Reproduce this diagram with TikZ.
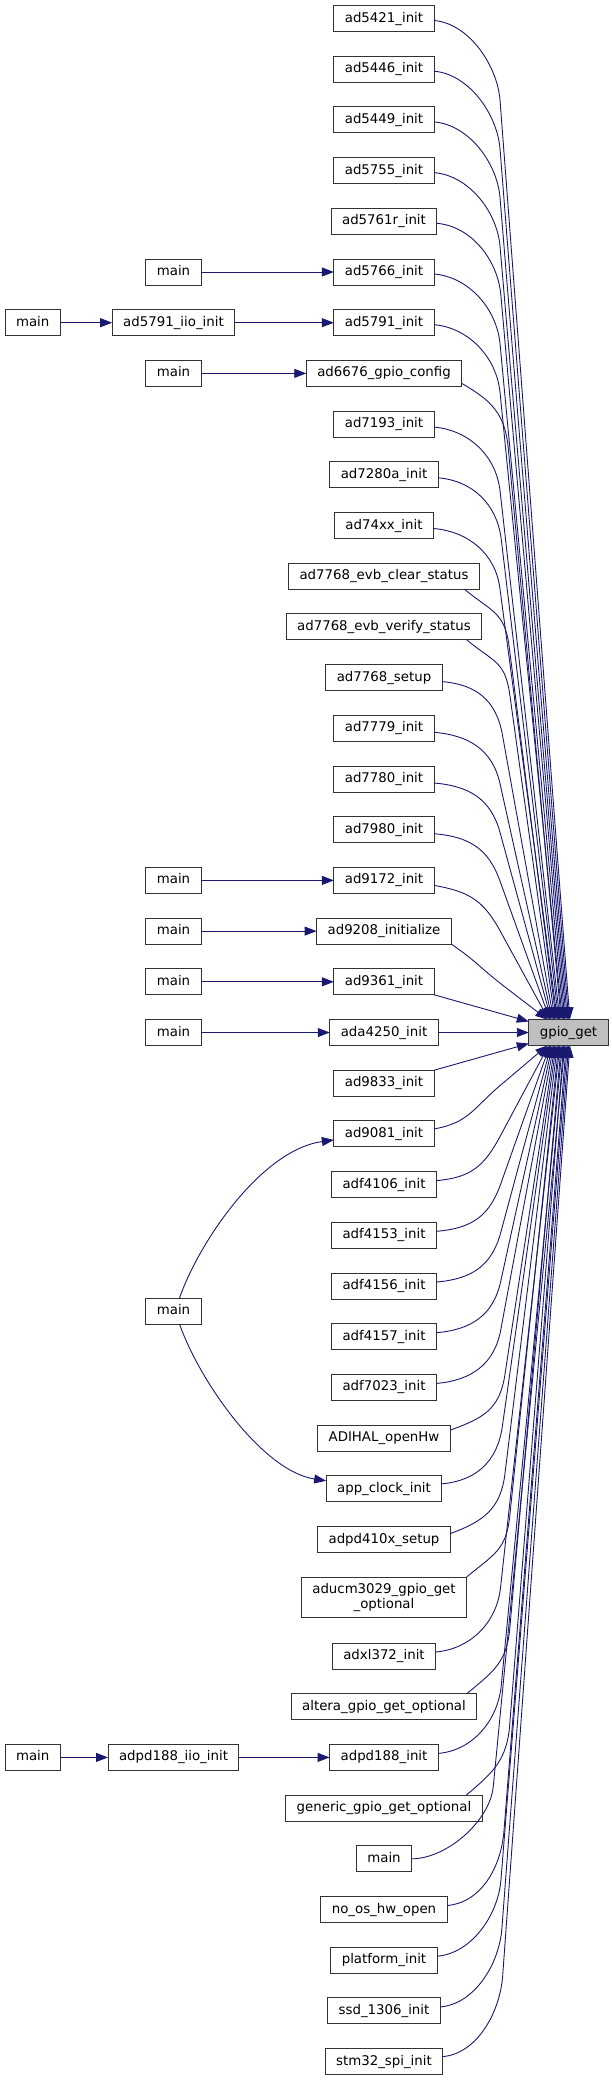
\documentclass[tikz,border=0pt]{standalone}
\usepackage{fontspec}
\setmainfont{DejaVu Sans}
\usetikzlibrary{arrows.meta,positioning,calc}
\definecolor{edgeblue}{RGB}{25,25,112}
\definecolor{boxgray}{RGB}{191,191,191}

\begin{document}
\begin{tikzpicture}[x=1pt, y=1pt,
    box/.style={rectangle, draw=black!80, line width=1pt, fill=white, minimum height=26pt, inner xsep=11pt, inner ysep=2pt, outer sep=0pt, font=\fontsize{13.33}{15}\selectfont},
    fn/.style={box, text height=10pt, text depth=3pt},
    call/.style={-{Triangle[length=12pt, width=9pt]}, draw=edgeblue, line width=0.9pt},
    fanup/.style={to path={let \p1=(\tikztostart), \p2=(\tikztotarget), \p3=({0.3*\x1+369.8pt},{\y1-40pt-0.04*(\y1-\y2)}) in (\p1) .. controls ($(\p1)+(#1:35pt)$) and ($(\p3)!-35pt!(\p2)$) .. (\p3) -- (\p2)}},
    fanup/.default=-5,
    fandown/.style={to path={let \p1=(\tikztostart), \p2=(\tikztotarget), \p3=({0.3*\x1+369.8pt},{\y1+40pt+0.04*(\y2-\y1)}) in (\p1) .. controls ($(\p1)+(#1:35pt)$) and ($(\p3)!-35pt!(\p2)$) .. (\p3) -- (\p2)}},
    fandown/.default=5
]
\useasboundingbox (0,0) rectangle (611,-2080);

\node[fn] (ad5421) at (384,-18.5) {ad5421\_init};
\node[fn, below=24.7pt of ad5421] (ad5446) {ad5446\_init};
\node[fn, below=24.7pt of ad5446] (ad5449) {ad5449\_init};
\node[fn, below=24.7pt of ad5449] (ad5755) {ad5755\_init};
\node[fn, below=24.7pt of ad5755] (ad5761r) {ad5761r\_init};
\node[fn, below=24.7pt of ad5761r] (ad5766) {ad5766\_init};
\node[fn, below=24.7pt of ad5766] (ad5791) {ad5791\_init};
\node[fn, below=24.7pt of ad5791] (ad6676) {ad6676\_gpio\_config};
\node[fn, below=24.7pt of ad6676] (ad7193) {ad7193\_init};
\node[fn, below=24.7pt of ad7193] (ad7280a) {ad7280a\_init};
\node[fn, below=24.7pt of ad7280a] (ad74xx) {ad74xx\_init};
\node[fn, below=24.7pt of ad74xx] (evbclear) {ad7768\_evb\_clear\_status};
\node[fn, below=24.7pt of evbclear] (evbverify) {ad7768\_evb\_verify\_status};
\node[fn, below=24.7pt of evbverify] (ad7768) {ad7768\_setup};
\node[fn, below=24.7pt of ad7768] (ad7779) {ad7779\_init};
\node[fn, below=24.7pt of ad7779] (ad7780) {ad7780\_init};
\node[fn, below=24.7pt of ad7780] (ad7980) {ad7980\_init};
\node[fn, below=24.7pt of ad7980] (ad9172) {ad9172\_init};
\node[fn, below=24.7pt of ad9172] (ad9208) {ad9208\_initialize};
\node[fn, below=24.7pt of ad9208] (ad9361) {ad9361\_init};
\node[fn, below=24.7pt of ad9361] (ada4250) {ada4250\_init};
\node[fn, below=24.7pt of ada4250] (ad9833) {ad9833\_init};
\node[fn, below=24.7pt of ad9833] (ad9081) {ad9081\_init};
\node[fn, below=24.7pt of ad9081] (adf4106) {adf4106\_init};
\node[fn, below=24.7pt of adf4106] (adf4153) {adf4153\_init};
\node[fn, below=24.7pt of adf4153] (adf4156) {adf4156\_init};
\node[fn, below=24.7pt of adf4156] (adf4157) {adf4157\_init};
\node[fn, below=24.7pt of adf4157] (adf7023) {adf7023\_init};
\node[fn, below=24.7pt of adf7023] (adihal) {ADIHAL\_openHw};
\node[fn, below=24.7pt of adihal] (appclk) {app\_clock\_init};
\node[fn, below=24.7pt of appclk] (adpd410x) {adpd410x\_setup};
\node[box, minimum height=40pt, align=center, below=24.5pt of adpd410x] (aducm) {aducm3029\_gpio\_get\\\_optional};
\node[fn, below=26pt of aducm] (adxl372) {adxl372\_init};
\node[fn, below=24.7pt of adxl372] (altera) {altera\_gpio\_get\_optional};
\node[fn, below=24.7pt of altera] (adpd188) {adpd188\_init};
\node[fn, below=24.7pt of adpd188] (generic) {generic\_gpio\_get\_optional};
\node[fn, below=24.7pt of generic] (mainhw) {main};
\node[fn, below=24.7pt of mainhw] (noos) {no\_os\_hw\_open};
\node[fn, below=24.7pt of noos] (platform) {platform\_init};
\node[fn, below=24.7pt of platform] (ssd1306) {ssd\_1306\_init};
\node[fn, below=24.7pt of ssd1306] (stm32) {stm32\_spi\_init};

\node[fn, fill=boxgray] (gpio) at (568.5,0 |- ada4250) {gpio\_get};

\node[fn] (main5766) at (173.5,0 |- ad5766) {main};
\node[fn] (iio5791) at (173.5,0 |- ad5791) {ad5791\_iio\_init};
\node[fn] (main5791) at (32.7,0 |- ad5791) {main};
\node[fn] (main6676) at (173.5,0 |- ad6676) {main};
\node[fn] (main9172) at (173.5,0 |- ad9172) {main};
\node[fn] (main9208) at (173.5,0 |- ad9208) {main};
\node[fn] (main9361) at (173.5,0 |- ad9361) {main};
\node[fn] (main4250) at (173.5,0 |- ada4250) {main};
\node[fn] (mainclk) at (173.5,-1311) {main};
\node[fn] (iio188) at (173.5,0 |- adpd188) {adpd188\_iio\_init};
\node[fn] (main188) at (32.7,0 |- adpd188) {main};

\draw[call] (main5766) -- (ad5766);
\draw[call] (main5791) -- (iio5791);
\draw[call] (iio5791) -- (ad5791);
\draw[call] (main6676) -- (ad6676);
\draw[call] (main9172) -- (ad9172);
\draw[call] (main9208) -- (ad9208);
\draw[call] (main9361) -- (ad9361);
\draw[call] (main4250) -- (ada4250);
\draw[call] ([xshift=6pt]mainclk.north) .. controls +(20,57) and +(-72,-10) .. ([yshift=-6pt]ad9081.west);
\draw[call] ([xshift=6pt]mainclk.south) .. controls +(20,-57) and +(-64,10) .. ([yshift=8pt]appclk.west);
\draw[call] (main188) -- (iio188);
\draw[call] (iio188) -- (adpd188);

\draw[call] ([yshift=-2pt]ad5421.east) to[fanup] ([xshift=41pt]gpio.north west);
\draw[call] ([yshift=-2pt]ad5446.east) to[fanup] ([xshift=39.8pt]gpio.north west);
\draw[call] ([yshift=-2pt]ad5449.east) to[fanup] ([xshift=38.5pt]gpio.north west);
\draw[call] ([yshift=-2pt]ad5755.east) to[fanup] ([xshift=37.3pt]gpio.north west);
\draw[call] ([yshift=-2pt]ad5761r.east) to[fanup] ([xshift=36pt]gpio.north west);
\draw[call] ([yshift=-2pt]ad5766.east) to[fanup] ([xshift=34.8pt]gpio.north west);
\draw[call] ([yshift=-2pt]ad5791.east) to[fanup] ([xshift=33.5pt]gpio.north west);
\draw[call] ([yshift=3pt]ad6676.south east) to[fanup=-30] ([xshift=32.3pt]gpio.north west);
\draw[call] ([yshift=-3pt]ad7193.east) to[fanup] ([xshift=31pt]gpio.north west);
\draw[call] ([yshift=-3pt]ad7280a.east) to[fanup] ([xshift=29.8pt]gpio.north west);
\draw[call] ([yshift=-3pt]ad74xx.east) to[fanup] ([xshift=28.5pt]gpio.north west);
\draw[call] ([xshift=-15pt]evbclear.south east) to[fanup=-40] ([xshift=27.3pt]gpio.north west);
\draw[call] ([xshift=-15pt]evbverify.south east) to[fanup=-40] ([xshift=26pt]gpio.north west);
\draw[call] ([yshift=-4pt]ad7768.east) to[fanup] ([xshift=24.8pt]gpio.north west);
\draw[call] ([yshift=-4pt]ad7779.east) to[fanup] ([xshift=23.5pt]gpio.north west);
\draw[call] ([yshift=-4pt]ad7780.east) to[fanup] ([xshift=22.3pt]gpio.north west);
\draw[call] ([yshift=-4pt]ad7980.east) to[fanup] ([xshift=21pt]gpio.north west);
\draw[call] ([yshift=-5pt]ad9172.east) to[fanup=-10] ([xshift=19.8pt]gpio.north west);
\draw[call] (ad9208.south east) to[fanup=-35] ([xshift=18.5pt]gpio.north west);
\draw[call] (ad9361.south east) -- ([yshift=-2pt]gpio.north west);
\draw[call] (ada4250) -- (gpio);
\draw[call] (ad9833.north east) -- ([yshift=2pt]gpio.south west);

\draw[call] ([yshift=5pt]ad9081.east) to[fandown=10] ([xshift=18.5pt]gpio.south west);
\draw[call] ([yshift=4pt]adf4106.east) to[fandown] ([xshift=19.8pt]gpio.south west);
\draw[call] ([yshift=4pt]adf4153.east) to[fandown] ([xshift=21pt]gpio.south west);
\draw[call] ([yshift=4pt]adf4156.east) to[fandown] ([xshift=22.3pt]gpio.south west);
\draw[call] ([yshift=4pt]adf4157.east) to[fandown] ([xshift=23.5pt]gpio.south west);
\draw[call] ([yshift=4pt]adf7023.east) to[fandown] ([xshift=24.8pt]gpio.south west);
\draw[call] ([yshift=8pt]adihal.east) to[fandown=20] ([xshift=26pt]gpio.south west);
\draw[call] ([yshift=5pt]appclk.east) to[fandown] ([xshift=27.3pt]gpio.south west);
\draw[call] ([yshift=6pt]adpd410x.east) to[fandown=20] ([xshift=28.5pt]gpio.south west);
\draw[call] (aducm.north east) to[fandown=40] ([xshift=29.8pt]gpio.south west);
\draw[call] ([yshift=4pt]adxl372.east) to[fandown] ([xshift=31pt]gpio.south west);
\draw[call] ([xshift=-10pt]altera.north east) to[fandown=40] ([xshift=32.3pt]gpio.south west);
\draw[call] ([yshift=4pt]adpd188.east) to[fandown] ([xshift=33.5pt]gpio.south west);
\draw[call] ([xshift=-16pt]generic.north east) to[fandown=40] ([xshift=34.8pt]gpio.south west);
\draw[call] (mainhw.east) to[fandown=0] ([xshift=36pt]gpio.south west);
\draw[call] ([yshift=4pt]noos.east) to[fandown] ([xshift=37.3pt]gpio.south west);
\draw[call] ([yshift=4pt]platform.east) to[fandown] ([xshift=38.5pt]gpio.south west);
\draw[call] ([yshift=4pt]ssd1306.east) to[fandown] ([xshift=39.8pt]gpio.south west);
\draw[call] ([yshift=5pt]stm32.east) to[fandown] ([xshift=41pt]gpio.south west);
\end{tikzpicture}
\end{document}
